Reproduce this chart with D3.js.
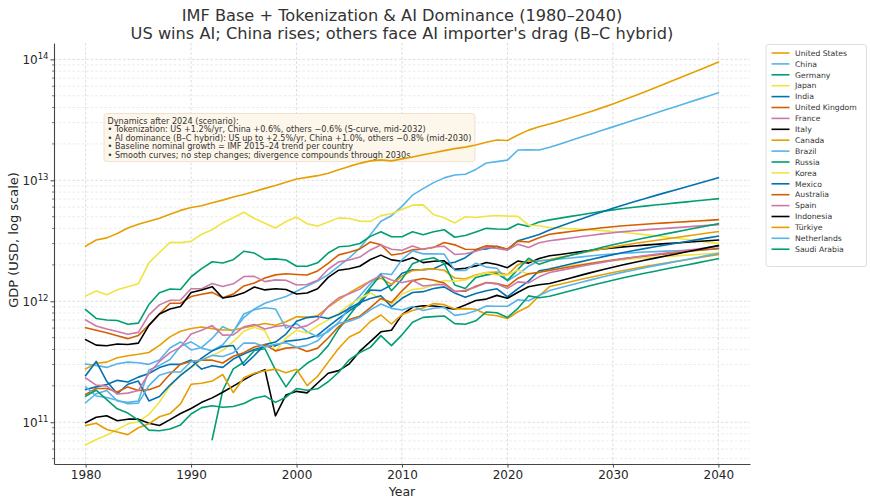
<!DOCTYPE html>
<html>
<head>
<meta charset="utf-8">
<script src="https://cdn.jsdelivr.net/npm/d3@7"></script>
<style>
  body { margin: 0; background: #fff; }
  svg { font-family: 'DejaVu Sans', sans-serif; }
  .grid line { stroke: #cfcfcf; stroke-width: 0.7; stroke-dasharray: 2.6, 2; }
  .grid.minor line { stroke: #dddddd; stroke-width: 0.6; }
  .axis path, .axis line { stroke: #444; }
  .axis text { fill: #262626; }
</style>
</head>
<body>
<div id="chart"></div>
<script>
// nominal GDP, billions of USD, 1980..2040 (IMF to 2024, scenario after)
let years = d3.range(1980, 2041);
let countries = ['United States', 'China', 'Germany', 'Japan', 'India', 'United Kingdom', 'France', 'Italy', 'Canada', 'Brazil',
  'Russia', 'Korea', 'Mexico', 'Australia', 'Spain', 'Indonesia', 'Türkiye', 'Netherlands', 'Saudi Arabia'];

let usa = [2857, 3207, 3343, 3634, 4037, 4339, 4580, 4855, 5236, 5642,
  5963, 6158, 6520, 6859, 7287, 7640, 8073, 8578, 9063, 9631,
  10251, 10582, 10929, 11457, 12217, 13039, 13816, 14474, 14770, 14478,
  15049, 15600, 16254, 16880, 17608, 18295, 18805, 19612, 20657, 21540,
  21354, 23681, 26007, 27721, 29185, 30936, 32854, 34957, 37299, 39910,
  42823, 46078, 49718, 53745, 58206, 63095, 68458, 74277, 80591, 87441,
  94874];
let china = [303, 295, 284, 304, 314, 310, 301, 327, 411, 461,
  396, 415, 494, 617, 564, 734, 864, 962, 1029, 1094,
  1211, 1339, 1471, 1660, 1955, 2286, 2752, 3550, 4594, 5102,
  6087, 7552, 8532, 9570, 10476, 11062, 11233, 12310, 13895, 14280,
  14688, 17820, 17882, 17795, 18748, 20004, 21344, 22774, 24300, 25928,
  27665, 29519, 31497, 33607, 35859, 38261, 40825, 43560, 46479, 49593,
  52915];
let germany = [854, 721, 700, 693, 646, 660, 939, 1177, 1264, 1252,
  1595, 1864, 2124, 2071, 2205, 2592, 2504, 2219, 2240, 2196,
  1948, 1950, 2079, 2505, 2820, 2861, 3002, 3440, 3752, 3418,
  3419, 3757, 3544, 3753, 3904, 3383, 3496, 3735, 4007, 3958,
  3940, 4349, 4164, 4525, 4710, 4868, 5031, 5200, 5370, 5536,
  5695, 5846, 5987, 6121, 6251, 6377, 6505, 6637, 6771, 6908,
  7048];
let japan = [1105, 1218, 1134, 1243, 1318, 1398, 2078, 2532, 3072, 3054,
  3133, 3585, 3909, 4454, 4908, 5449, 4833, 4415, 4032, 4562,
  4968, 4374, 4183, 4519, 4893, 4831, 4601, 4579, 5106, 5289,
  5759, 6233, 6272, 5212, 4897, 4445, 5004, 4931, 5041, 5118,
  5055, 5034, 4257, 4213, 4070, 4025, 3981, 3938, 3891, 3839,
  3780, 3712, 3639, 3560, 3479, 3396, 3315, 3237, 3160, 3085,
  3012];
let india = [186, 196, 205, 222, 215, 236, 253, 283, 301, 301,
  327, 275, 293, 284, 333, 367, 400, 423, 428, 467,
  477, 493, 524, 618, 722, 834, 949, 1238, 1224, 1365,
  1708, 1823, 1828, 1857, 2039, 2104, 2295, 2652, 2713, 2836,
  2675, 3168, 3354, 3568, 3889, 4171, 4474, 4798, 5140, 5499,
  5872, 6254, 6646, 7051, 7472, 7910, 8374, 8866, 9385, 9936,
  10519];
let uk = [604, 576, 549, 519, 491, 522, 637, 787, 964, 965,
  1094, 1145, 1185, 1068, 1146, 1340, 1415, 1560, 1653, 1688,
  1667, 1647, 1783, 2059, 2420, 2543, 2708, 3090, 2929, 2412,
  2485, 2663, 2707, 2785, 3065, 2928, 2689, 2680, 2871, 2851,
  2697, 3143, 3089, 3345, 3588, 3679, 3772, 3868, 3962, 4052,
  4136, 4211, 4278, 4339, 4396, 4449, 4502, 4557, 4612, 4667,
  4724];
let france = [701, 624, 591, 562, 533, 553, 771, 934, 1019, 1025,
  1269, 1269, 1401, 1323, 1394, 1601, 1606, 1453, 1503, 1492,
  1362, 1377, 1494, 1840, 2116, 2197, 2320, 2657, 2918, 2690,
  2643, 2862, 2682, 2811, 2852, 2439, 2472, 2595, 2790, 2729,
  2647, 2966, 2780, 3052, 3162, 3249, 3338, 3429, 3519, 3606,
  3688, 3763, 3831, 3893, 3952, 4008, 4064, 4121, 4180, 4238,
  4298];
let italy = [481, 434, 429, 443, 439, 451, 632, 785, 862, 905,
  1183, 1240, 1321, 1066, 1100, 1174, 1313, 1242, 1270, 1252,
  1147, 1171, 1271, 1577, 1807, 1859, 1948, 2214, 2408, 2200,
  2141, 2295, 2087, 2141, 2162, 1836, 1877, 1961, 2092, 2011,
  1897, 2155, 2067, 2255, 2376, 2440, 2505, 2573, 2639, 2703,
  2763, 2818, 2867, 2912, 2955, 2995, 3036, 3077, 3119, 3161,
  3204];
let canada = [276, 307, 314, 341, 355, 365, 377, 432, 508, 565,
  596, 612, 594, 579, 579, 604, 629, 655, 634, 678,
  745, 739, 760, 896, 1026, 1173, 1319, 1468, 1553, 1376,
  1617, 1793, 1828, 1847, 1805, 1556, 1528, 1649, 1725, 1744,
  1655, 2008, 2162, 2140, 2215, 2308, 2404, 2505, 2607, 2709,
  2810, 2907, 3002, 3093, 3184, 3275, 3368, 3463, 3562, 3663,
  3767];
let brazil = [145, 172, 183, 150, 146, 150, 270, 295, 330, 425,
  462, 410, 390, 438, 558, 785, 850, 883, 864, 600,
  655, 560, 510, 559, 669, 892, 1107, 1397, 1696, 1667,
  2209, 2616, 2465, 2473, 2456, 1802, 1796, 2064, 1917, 1873,
  1476, 1670, 1951, 2174, 2188, 2234, 2282, 2330, 2377, 2422,
  2462, 2497, 2527, 2552, 2575, 2596, 2617, 2638, 2659, 2681,
  2702];
let russia = [null, null, null, null, null, null, null, null, null, null,
  null, null, 72, 183, 276, 313, 392, 405, 271, 196,
  260, 307, 345, 430, 591, 764, 990, 1300, 1661, 1223,
  1525, 2046, 2208, 2292, 2059, 1363, 1277, 1575, 1653, 1695,
  1490, 1837, 2266, 2021, 2161, 2276, 2398, 2526, 2658, 2793,
  2929, 3063, 3198, 3332, 3468, 3606, 3749, 3898, 4053, 4214,
  4382];
let korea = [65, 72, 78, 87, 97, 101, 116, 147, 199, 247,
  283, 330, 355, 393, 463, 566, 610, 570, 383, 497,
  576, 547, 627, 702, 793, 935, 1053, 1172, 1047, 944,
  1144, 1253, 1278, 1370, 1484, 1466, 1500, 1623, 1725, 1651,
  1644, 1818, 1673, 1713, 1870, 1919, 1970, 2022, 2073, 2122,
  2168, 2210, 2248, 2282, 2314, 2344, 2375, 2406, 2437, 2469,
  2502];
let mexico = [243, 318, 218, 172, 206, 219, 150, 163, 203, 244,
  286, 339, 389, 422, 431, 295, 356, 438, 460, 536,
  684, 733, 749, 720, 777, 872, 976, 1053, 1110, 900,
  1058, 1181, 1201, 1275, 1315, 1172, 1078, 1159, 1222, 1269,
  1090, 1273, 1466, 1789, 1848, 1937, 2030, 2128, 2228, 2329,
  2431, 2530, 2628, 2724, 2821, 2919, 3019, 3124, 3232, 3344,
  3459];
let australia = [170, 190, 190, 178, 196, 183, 186, 199, 249, 302,
  318, 326, 326, 309, 351, 376, 419, 438, 389, 410,
  416, 384, 410, 497, 619, 706, 753, 886, 1055, 978,
  1220, 1481, 1543, 1490, 1415, 1210, 1212, 1332, 1429, 1400,
  1329, 1553, 1689, 1739, 1802, 1864, 1929, 1996, 2062, 2128,
  2192, 2252, 2309, 2363, 2415, 2467, 2519, 2573, 2627, 2683,
  2740];
let spain = [232, 203, 199, 171, 174, 183, 254, 318, 376, 418,
  536, 577, 630, 525, 528, 614, 642, 590, 619, 634,
  598, 629, 708, 906, 1069, 1153, 1260, 1474, 1635, 1499,
  1431, 1488, 1336, 1362, 1380, 1196, 1233, 1313, 1422, 1394,
  1277, 1446, 1419, 1593, 1732, 1801, 1872, 1947, 2022, 2098,
  2171, 2242, 2310, 2376, 2441, 2505, 2571, 2639, 2708, 2780,
  2853];
let indonesia = [99, 110, 113, 103, 106, 106, 98, 94, 105, 118,
  130, 146, 159, 177, 199, 224, 251, 272, 113, 168,
  180, 175, 211, 254, 267, 304, 387, 464, 559, 576,
  775, 893, 918, 913, 891, 861, 932, 1015, 1042, 1119,
  1059, 1187, 1319, 1371, 1403, 1479, 1560, 1645, 1733, 1822,
  1913, 2003, 2093, 2183, 2274, 2367, 2463, 2564, 2668, 2777,
  2891];
let turkiye = [94, 98, 87, 83, 79, 90, 97, 111, 118, 142,
  206, 210, 219, 248, 176, 233, 254, 266, 275, 256,
  274, 201, 240, 314, 409, 506, 557, 681, 770, 649,
  777, 838, 880, 957, 938, 864, 869, 859, 778, 760,
  720, 819, 906, 1108, 1323, 1385, 1450, 1519, 1589, 1659,
  1730, 1798, 1866, 1933, 2000, 2067, 2136, 2208, 2282, 2358,
  2437];
let netherlands = [196, 165, 160, 152, 142, 144, 201, 245, 260, 260,
  318, 327, 357, 350, 375, 452, 451, 420, 441, 454,
  416, 432, 471, 579, 658, 685, 735, 849, 950, 874,
  847, 905, 838, 876, 892, 765, 784, 834, 914, 910,
  909, 1029, 1010, 1118, 1228, 1294, 1363, 1435, 1510, 1587,
  1664, 1741, 1817, 1893, 1971, 2049, 2130, 2215, 2303, 2395,
  2490];
let saudi = [164, 184, 154, 129, 119, 104, 86, 85, 88, 95,
  117, 132, 137, 133, 135, 143, 158, 165, 146, 161,
  190, 184, 189, 216, 259, 328, 377, 416, 520, 430,
  528, 671, 736, 747, 756, 654, 645, 689, 816, 803,
  734, 874, 1108, 1068, 1100, 1159, 1222, 1288, 1356, 1425,
  1495, 1565, 1634, 1704, 1774, 1847, 1920, 1997, 2078, 2161,
  2248];

let series = [usa, china, germany, japan, india, uk, france, italy, canada, brazil,
  russia, korea, mexico, australia, spain, indonesia, turkiye, netherlands, saudi];

let xTicks = [1980, 1990, 2000, 2010, 2020, 2030, 2040];
let yExponents = [11, 12, 13, 14];
let titleLines = ['IMF Base + Tokenization & AI Dominance (1980–2040)',
  "US wins AI; China rises; others face AI importer's drag (B–C hybrid)"];
let noteLines = ['Dynamics after 2024 (scenario):',
  '• Tokenization: US +1.2%/yr, China +0.6%, others −0.6% (S-curve, mid-2032)',
  '• AI dominance (B–C hybrid): US up to +2.5%/yr, China +1.0%, others −0.8% (mid-2030)',
  '• Baseline nominal growth = IMF 2015–24 trend per country',
  '• Smooth curves; no step changes; divergence compounds through 2030s.'];
let xAxisLabel = 'Year';
let yAxisLabel = 'GDP (USD, log scale)';

// okabe-ito cycle, like the matplotlib colorblind style
let palette = ['#E69F00', '#56B4E9', '#009E73', '#F0E442', '#0072B2', '#D55E00', '#CC79A7', '#000000'];

let width = 870,
  height = 504,
  margin = { top: 43, right: 120, bottom: 40, left: 54 },
  plotRight = width - margin.right,
  plotBottom = height - margin.bottom;

let x, y, yMinor;

let buildXY = () => {
  x = d3.scaleLinear().domain([1977, 2043]).range([margin.left, plotRight]);

  // 5% padding in log space, as matplotlib does
  let logs = series.flat().filter((v) => v != null).map((v) => Math.log10(v * 1e9));
  let lo = d3.min(logs),
    hi = d3.max(logs),
    pad = (hi - lo) * 0.05;
  y = d3
    .scaleLog()
    .domain([Math.pow(10, lo - pad), Math.pow(10, hi + pad)])
    .range([plotBottom, margin.top]);

  yMinor = [];
  for (let e = 10; e <= 14; e++) {
    for (let m = 2; m <= 9; m++) {
      let v = m * Math.pow(10, e);
      if (v > y.domain()[0] && v < y.domain()[1]) yMinor.push(v);
    }
  }
};

let addGrid = (svg) => {
  let yMajor = yExponents.map((e) => Math.pow(10, e));
  svg
    .append('g')
    .attr('class', 'grid minor')
    .selectAll('line')
    .data(yMinor)
    .join('line')
    .attr('x1', margin.left)
    .attr('x2', plotRight)
    .attr('y1', (d) => y(d))
    .attr('y2', (d) => y(d));

  svg
    .append('g')
    .attr('class', 'grid')
    .selectAll('line')
    .data(yMajor)
    .join('line')
    .attr('x1', margin.left)
    .attr('x2', plotRight)
    .attr('y1', (d) => y(d))
    .attr('y2', (d) => y(d));

  svg
    .append('g')
    .attr('class', 'grid')
    .selectAll('line')
    .data(xTicks)
    .join('line')
    .attr('x1', (d) => x(d))
    .attr('x2', (d) => x(d))
    .attr('y1', margin.top)
    .attr('y2', plotBottom);
};

let addAxis = (svg) => {
  let gx = svg
    .append('g')
    .attr('class', 'axis x-axis')
    .attr('transform', `translate(0,${plotBottom})`)
    .call(d3.axisBottom(x).tickValues(xTicks).tickSize(3.5).tickSizeOuter(0).tickPadding(2.5).tickFormat(d3.format('d')));
  gx.attr('font-family', null).attr('font-size', 12);
  gx.select('.domain').attr('stroke-width', 1.1);

  let gy = svg
    .append('g')
    .attr('class', 'axis y-axis')
    .attr('transform', `translate(${margin.left},0)`)
    .call(d3.axisLeft(y).tickValues(yExponents.map((e) => Math.pow(10, e))).tickSize(3.5).tickSizeOuter(0).tickFormat(''));
  gy.attr('font-family', null).attr('font-size', 12);
  gy.select('.domain').attr('stroke-width', 1.1);

  // minor log ticks
  svg
    .append('g')
    .attr('class', 'axis')
    .selectAll('line')
    .data(yMinor)
    .join('line')
    .attr('x1', margin.left - 2)
    .attr('x2', margin.left)
    .attr('y1', (d) => y(d))
    .attr('y2', (d) => y(d))
    .attr('stroke-width', 0.7);

  // 10^n labels
  let lab = svg
    .append('g')
    .attr('class', 'axis')
    .selectAll('text')
    .data(yExponents)
    .join('text')
    .attr('x', margin.left - 5.5)
    .attr('y', (d) => y(Math.pow(10, d)) + 4.5)
    .attr('text-anchor', 'end')
    .attr('font-size', 12);
  lab.append('tspan').text('10');
  lab
    .append('tspan')
    .attr('dy', -5)
    .attr('font-size', 8.5)
    .text((d) => d);
};

let addLines = (svg) => {
  let line = d3
    .line()
    .defined((d) => d.gdp != null)
    .x((d) => x(d.year))
    .y((d) => y(d.gdp));

  svg
    .append('g')
    .attr('class', 'lines')
    .selectAll('path')
    .data(series)
    .join('path')
    .attr('fill', 'none')
    .attr('stroke', (d, i) => palette[i % palette.length])
    .attr('stroke-width', 1.6)
    .attr('stroke-linejoin', 'round')
    .attr('stroke-linecap', 'square')
    .attr('d', (s) => line(years.map((yr, i) => ({ year: yr, gdp: s[i] == null ? null : s[i] * 1e9 }))));
};

let addNote = (svg) => {
  let g = svg.append('g').attr('class', 'note');
  let box = g.append('rect');
  g.append('text')
    .attr('font-size', 8.15)
    .attr('fill', '#333')
    .selectAll('tspan')
    .data(noteLines)
    .join('tspan')
    .attr('x', 107.5)
    .attr('y', (d, i) => 124 + i * 8.4)
    .text((d) => d);
  let bb = g.select('text').node().getBBox();
  box
    .attr('x', bb.x - 3.5)
    .attr('y', bb.y - 2.5)
    .attr('width', bb.width + 7)
    .attr('height', bb.height + 4.5)
    .attr('rx', 3)
    .attr('fill', '#fdf6ea')
    .attr('stroke', '#eadcc4')
    .attr('stroke-width', 0.8);
};

let addLegend = (svg) => {
  let g = svg.append('g').attr('class', 'legend');
  g.append('rect')
    .attr('x', 766)
    .attr('y', 44.5)
    .attr('width', 100.5)
    .attr('height', 222)
    .attr('rx', 2.5)
    .attr('fill', '#fff')
    .attr('stroke', '#d6d6d6')
    .attr('stroke-width', 0.8);

  let row = g
    .selectAll('.row')
    .data(countries)
    .join('g')
    .attr('class', 'row')
    .attr('transform', (d, i) => `translate(0,${53 + i * 10.9})`);
  row
    .append('line')
    .attr('x1', 771.5)
    .attr('x2', 789.5)
    .attr('stroke', (d, i) => palette[i % palette.length])
    .attr('stroke-width', 1.6);
  row
    .append('text')
    .attr('x', 795)
    .attr('dy', '0.35em')
    .attr('font-size', 7.7)
    .attr('fill', '#333')
    .text((d) => d);
};

let addLabels = (svg) => {
  svg
    .append('g')
    .selectAll('text')
    .data(titleLines)
    .join('text')
    .attr('x', (margin.left + plotRight) / 2)
    .attr('y', (d, i) => 21 + i * 18)
    .attr('text-anchor', 'middle')
    .attr('font-size', 16.2)
    .attr('fill', '#333')
    .text((d) => d);

  svg
    .append('text')
    .attr('x', (margin.left + plotRight) / 2)
    .attr('y', 496)
    .attr('text-anchor', 'middle')
    .attr('font-size', 12.5)
    .attr('fill', '#262626')
    .text(xAxisLabel);

  svg
    .append('text')
    .attr('transform', 'rotate(-90)')
    .attr('x', -240)
    .attr('y', 18)
    .attr('text-anchor', 'middle')
    .attr('font-size', 13)
    .attr('fill', '#262626')
    .text(yAxisLabel);
};

buildXY();
const svg = d3.select('#chart').append('svg').attr('width', width).attr('height', height);
addGrid(svg);
// note box sits under the lines so the US curve stays visible across it
addNote(svg);
addLines(svg);
addAxis(svg);
addLegend(svg);
addLabels(svg);
</script>
</body>
</html>
